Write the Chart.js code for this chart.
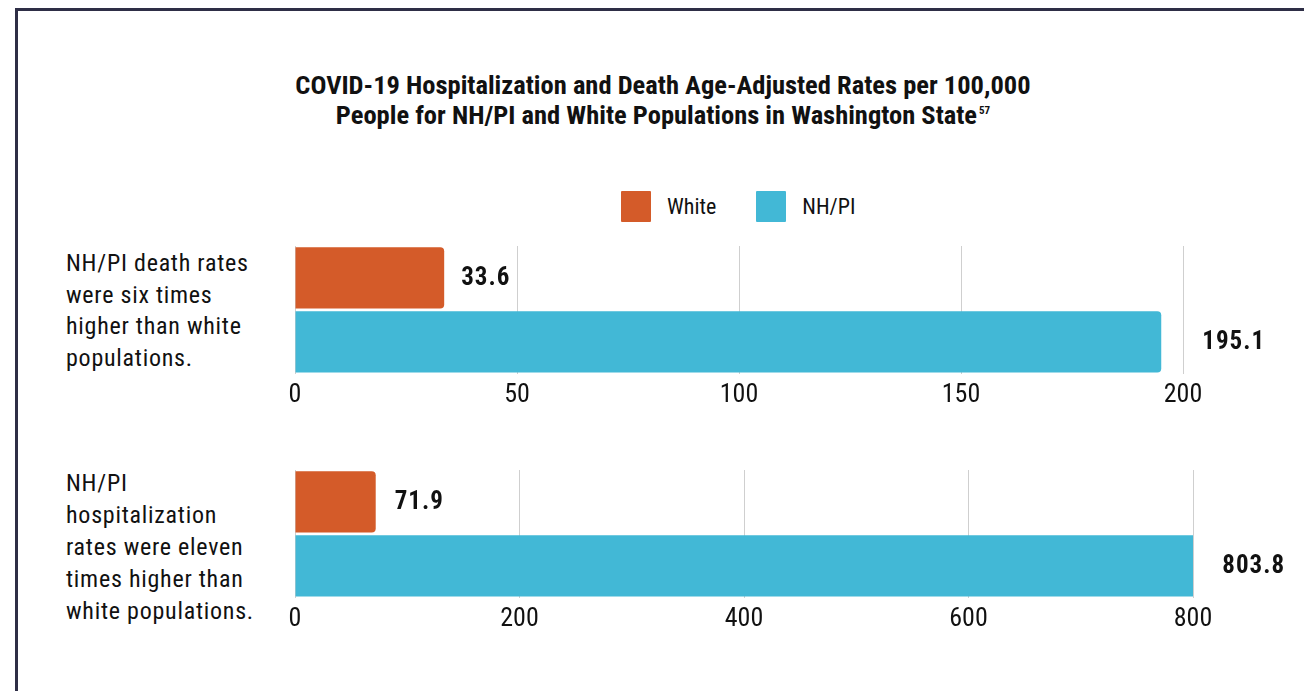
<!DOCTYPE html>
<html>
<head>
<meta charset="utf-8">
<script src="https://cdn.jsdelivr.net/npm/chart.js@4.4.1/dist/chart.umd.min.js"></script>
<style>
  html, body { margin: 0; padding: 0; background: #fff; }
  body { width: 1304px; height: 691px; position: relative; overflow: hidden; }
  .frame { position: absolute; left: 15px; top: 8px; width: 1400px; height: 800px;
           border-top: 3px solid #2e2e46; border-left: 3px solid #2e2e46; }
  .title { position: absolute; left: 163px; top: 70px; width: 1000px; text-align: center;
           font-family: 'Roboto Condensed', sans-serif; font-weight: bold; font-size: 26.5px;
           line-height: 30px; color: #111; }
  .title sup { font-size: 11px; vertical-align: top; position: relative; top: -4px; margin-left: 2px; }
  .legend { position: absolute; top: 191px; left: 621px; display: flex; align-items: center;
            font-family: 'Roboto Condensed', sans-serif; font-size: 22px; color: #111; }
  .legend .item { display: flex; align-items: center; margin-right: 40px; }
  .legend .box { width: 30px; height: 31px; margin-right: 16px; border-radius: 1px; }
  .side { position: absolute; left: 66px; font-family: 'Roboto Condensed', sans-serif;
          font-size: 24px; line-height: 31.5px; letter-spacing: 0.75px; color: #111; }
  canvas { position: absolute; left: 0; }
</style>
</head>
<body>
<div class="frame"></div>
<div class="title">COVID-19 Hospitalization and Death Age-Adjusted Rates per 100,000<br>People for NH/PI and White Populations in Washington State<sup>57</sup></div>
<div class="legend" id="legend"></div>
<div class="side" style="top:248px">NH/PI death rates<br>were six times<br>higher than white<br>populations.</div>
<div class="side" style="top:467px;line-height:32px">NH/PI<br>hospitalization<br>rates were eleven<br>times higher than<br>white populations.</div>

<div style="position:absolute;left:0;top:230px;width:1304px;height:190px"><canvas id="deathChart"></canvas></div>
<div style="position:absolute;left:0;top:454px;width:1304px;height:190px"><canvas id="hospChart"></canvas></div>

<script>
const categories = ['Death rate', 'Hospitalization rate'];
const seriesNames = ['White', 'NH/PI'];
const seriesColors = ['#d45b29', '#42b8d6'];
const whiteRates = [33.6, 71.9];
const nhpiRates = [195.1, 803.8];
const deathTicks = [0, 50, 100, 150, 200];
const hospTicks = [0, 200, 400, 600, 800];

// html legend
const legendEl = document.getElementById('legend');
seriesNames.forEach((name, i) => {
    const item = document.createElement('div');
    item.className = 'item';
    item.innerHTML = '<div class="box" style="background:' + seriesColors[i] + '"></div><span>' + name + '</span>';
    legendEl.appendChild(item);
});

// bold value labels to the right of each bar
const valueLabels = {
    id: 'valueLabels',
    afterDatasetsDraw(chart, args, opts) {
        const ctx = chart.ctx;
        ctx.save();
        ctx.font = 'bold 25px "Roboto Condensed", sans-serif';
        ctx.letterSpacing = '1px';
        ctx.fillStyle = '#111';
        ctx.textBaseline = 'middle';
        ctx.textAlign = 'left';
        chart.data.datasets.forEach((ds, i) => {
            chart.getDatasetMeta(i).data.forEach((bar, j) => {
                ctx.fillText(ds.data[j].toFixed(1), bar.x + opts.gaps[i], bar.y + 1);
            });
        });
        ctx.restore();
    }
};

function makeChart(id, idx, ticks, rightPad) {
    const ctx = document.getElementById(id).getContext('2d');
    return new Chart(ctx, {
        type: 'bar',
        data: {
            labels: [categories[idx]],
            datasets: [{
                label: seriesNames[0],
                data: [whiteRates[idx]],
                backgroundColor: seriesColors[0],
                borderRadius: 4
            }, {
                label: seriesNames[1],
                data: [nhpiRates[idx]],
                backgroundColor: seriesColors[1],
                borderRadius: 4
            }]
        },
        options: {
            indexAxis: 'y',
            responsive: true,
            maintainAspectRatio: false,
            animation: false,
            categoryPercentage: 1,
            barPercentage: 0.96,
            layout: { padding: { left: 295, right: rightPad, top: 16, bottom: 3 } },
            plugins: {
                legend: { display: false },
                tooltip: { enabled: false },
                valueLabels: { gaps: idx === 0 ? [17, 41] : [19, 25] }
            },
            scales: {
                y: { display: false },
                x: {
                    min: ticks[0],
                    max: ticks[ticks.length - 1],
                    ticks: {
                        stepSize: ticks[1] - ticks[0],
                        padding: 6,
                        color: '#111',
                        font: { family: 'Roboto Condensed', size: 26 }
                    },
                    grid: { color: '#cfcfcf', drawTicks: false },
                    border: { display: false }
                }
            }
        },
        plugins: [valueLabels]
    });
}

makeChart('deathChart', 0, deathTicks, 121);
makeChart('hospChart', 1, hospTicks, 111);
</script>
</body>
</html>
